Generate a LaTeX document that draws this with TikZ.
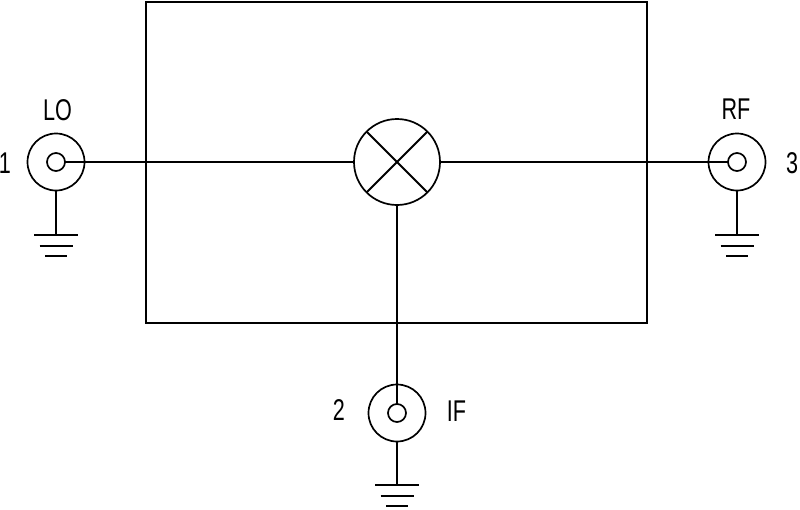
\documentclass[tikz,border=0pt]{standalone}
\usepackage{fontspec}
\setmainfont[FakeStretch=0.72]{Liberation Sans}
\tikzset{
  wire/.style={line width=1.9pt,line cap=butt},
  outerring/.style={circle,draw,line width=1.7pt,minimum size=57pt,inner sep=0pt,outer sep=0pt},
  innerring/.style={circle,draw,line width=1.7pt,minimum size=18pt,inner sep=0pt,outer sep=0pt},
  mixer/.style={circle,draw,line width=1.7pt,minimum size=86pt,inner sep=0pt,outer sep=0pt},
  housing/.style={rectangle,draw,line width=1.7pt,minimum width=501pt,minimum height=321pt,inner sep=0pt,outer sep=0pt},
  lab/.style={inner sep=0pt,outer sep=0pt,font=\fontsize{30}{30}\selectfont},
}
\newcommand{\gnd}[1]{%
  \draw[wire] ([xshift=-22pt]#1) -- ([xshift=22pt]#1);
  \draw[wire] ([xshift=-16.5pt,yshift=-11pt]#1) -- ([xshift=16.5pt,yshift=-11pt]#1);
  \draw[wire] ([xshift=-11pt,yshift=-21pt]#1) -- ([xshift=11pt,yshift=-21pt]#1);
}
\begin{document}
\begin{tikzpicture}[x=1pt,y=-1pt]
\useasboundingbox (0,0) rectangle (800,509);
\node[housing] (box) at (396.5,162.5) {};
\node[mixer] (mix) at (397,162) {};
\node[outerring] (lo) at (56,162) {};
\node[innerring] (loin) at (56,162) {};
\node[outerring] (rf) at (737,162) {};
\node[innerring] (rfin) at (737,162) {};
\node[outerring] (if) at (397,413) {};
\node[innerring] (ifin) at (397,413) {};
\coordinate (glo) at (56,235);
\coordinate (grf) at (737,235);
\coordinate (gif) at (397,485);
\draw[wire] (mix.45) -- (mix.225);
\draw[wire] (mix.135) -- (mix.315);
\draw[wire] (loin.east) -- (mix.west);
\draw[wire] (mix.east) -- (rfin.west);
\draw[wire] (mix.south) -- (ifin.north);
\draw[wire] (lo.south) -- (glo);
\draw[wire] (rf.south) -- (grf);
\draw[wire] (if.south) -- (gif);
\gnd{glo}
\gnd{grf}
\gnd{gif}
\node[lab] (tlo) at (57.5,110) {LO};
\node[lab] (t1) at (5,163) {1};
\node[lab] (trf) at (736,109.5) {RF};
\node[lab] (t3) at (792,163) {3};
\node[lab] (t2) at (339,410.5) {2};
\node[lab] (tif) at (456.5,411) {IF};
\end{tikzpicture}
\end{document}
